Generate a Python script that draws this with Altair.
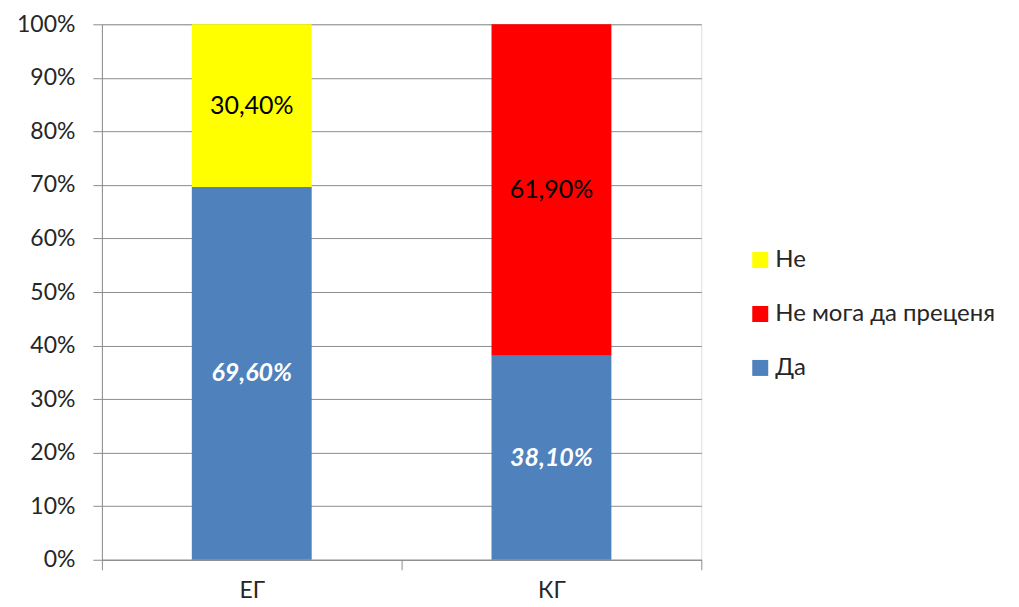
import altair as alt
import pandas as pd

groups = ["ЕГ", "ЕГ", "КГ", "КГ"]
answers = ["Да", "Не", "Да", "Не мога да преценя"]
values = [69.6, 30.4, 38.1, 61.9]
stack_order = [0, 2, 0, 1]

legend_order = ["Не", "Не мога да преценя", "Да"]
legend_colors = ["#FFFF00", "#FF0000", "#4F81BD"]

df = pd.DataFrame({"group": groups, "answer": answers, "value": values, "ord": stack_order})

FONT = "Lato"
AX_COLOR = "#8C8C8C"
TXT = "#262626"

base = alt.Chart(df).transform_stack(
    stack="value", groupby=["group"], as_=["y0", "y1"], sort=[alt.SortField("ord", order="ascending")]
).transform_calculate(
    mid="(datum.y0 + datum.y1) / 2",
    label="replace(format(datum.value, '.2f'), '.', ',') + '%'",
)

x_enc = alt.X(
    "group:N",
    title=None,
    sort=["ЕГ", "КГ"],
    scale=alt.Scale(paddingInner=0, paddingOuter=0),
    axis=alt.Axis(
        tickBand="extent", labelAngle=0, labelFontSize=23, labelFont=FONT, labelColor=TXT,
        tickSize=10, tickColor=AX_COLOR, domainColor=AX_COLOR, labelPadding=10, grid=False,
    ),
)

bars = base.mark_bar(width=alt.RelativeBandSize(0.4)).encode(
    x=x_enc,
    y=alt.Y(
        "y0:Q",
        title=None,
        scale=alt.Scale(domain=[0, 100]),
        axis=alt.Axis(
            values=list(range(0, 101, 10)), labelExpr="datum.value + '%'", labelFontSize=23,
            labelFont=FONT, labelColor=TXT, tickSize=9, tickColor=AX_COLOR,
            domainColor=AX_COLOR, gridColor=AX_COLOR, gridWidth=1, labelPadding=18,
        ),
    ),
    y2="y1:Q",
    color=alt.Color(
        "answer:N",
        scale=alt.Scale(domain=legend_order, range=legend_colors),
        legend=alt.Legend(
            title=None, orient="none", legendX=647, legendY=224, symbolType="square",
            symbolSize=256, symbolStrokeWidth=0, labelFontSize=24, labelFont=FONT,
            labelColor=TXT, rowPadding=30, labelOffset=3, symbolOffset=0, labelLimit=400,
        ),
    ),
)

text_da = base.transform_filter("datum.answer == 'Да'").mark_text(
    fontSize=25, font=FONT, fontWeight="bold", fontStyle="italic", color="white"
).encode(x=alt.X("group:N", sort=["ЕГ", "КГ"]), y="mid:Q", text="label:N")

text_other = base.transform_filter("datum.answer != 'Да'").mark_text(
    fontSize=25, font=FONT, color="black"
).encode(x=alt.X("group:N", sort=["ЕГ", "КГ"]), y="mid:Q", text="label:N")

chart = alt.layer(bars, text_da, text_other).properties(
    width=600, height=536,
    autosize=alt.AutoSizeParams(type="none"),
    padding={"left": 94, "top": 16, "right": 310, "bottom": 60},
).configure_view(stroke=None).configure(background="white")

chart.save("out.html", embed_options={"renderer": "svg", "actions": False})
